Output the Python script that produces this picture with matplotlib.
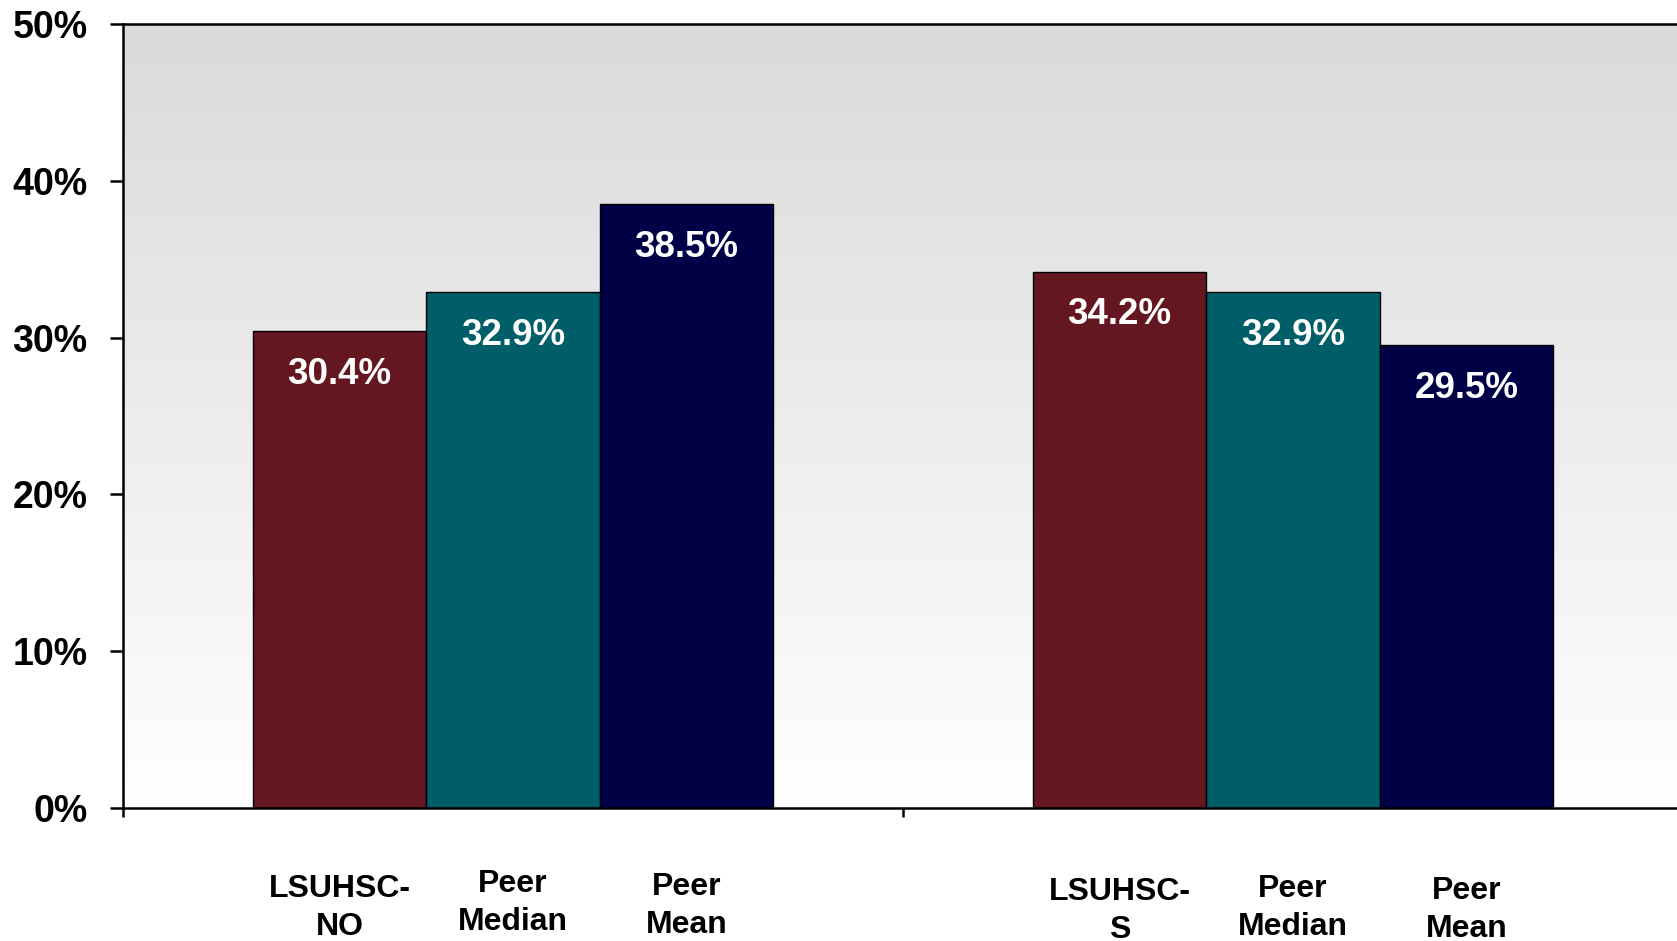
import matplotlib
matplotlib.use('Agg')
import matplotlib.pyplot as plt
import numpy as np

groups = ['LSUHSC-NO', 'LSUHSC-S']
bar_labels = [['LSUHSC-\nNO', 'Peer\nMedian', 'Peer\nMean'],
              ['LSUHSC-\nS', 'Peer\nMedian', 'Peer\nMean']]
values = [[30.4, 32.9, 38.5],
          [34.2, 32.9, 29.5]]
colors = ['#641720', '#005E69', '#000046']
y_ticks = [0, 10, 20, 30, 40, 50]

plt.rcParams['font.family'] = ['Liberation Sans', 'DejaVu Sans']
plt.rcParams['font.weight'] = 'bold'

fig = plt.figure(figsize=(16.77, 9.41), dpi=100)
ax = fig.add_axes([123 / 1677, 133 / 941, 1560 / 1677, 784 / 941])

# grey-to-white background like the original plot area
grad = np.linspace(1.0, 0.0, 256).reshape(-1, 1)
ax.imshow(grad, cmap=matplotlib.colors.LinearSegmentedColormap.from_list('bg', ['#ffffff', '#dadada']),
          extent=(-0.5, 1.5, 0, 50), aspect='auto', zorder=0, interpolation='bilinear')

w = 1 / 4.5
label_drop = [[100, 95, 98], [103, 100, 102]]
for g in range(len(groups)):
    for i in range(3):
        x = g + (i - 1) * w
        ax.bar(x, values[g][i], width=w, color=colors[i], edgecolor='black', linewidth=1.0, zorder=2)
        ax.annotate(f'{values[g][i]:.1f}%', xy=(x, values[g][i]), xytext=(0, -43),
                    textcoords='offset pixels', ha='center', va='center',
                    color='white', fontsize=26.5, fontweight='bold', zorder=3)
        ax.annotate(bar_labels[g][i], xy=(x, 0), xytext=(0, -label_drop[g][i]),
                    textcoords='offset pixels', ha='center', va='center',
                    fontsize=23, fontweight='bold', linespacing=1.35, annotation_clip=False)

ax.set_xlim(-0.5, 1.5)
ax.set_ylim(0, 50)
ax.set_yticks(y_ticks)
ax.set_yticklabels([f'{t}%' for t in y_ticks], fontsize=27, fontweight='bold')
ax.set_xticks([-0.5, 0.5, 1.5])
ax.set_xticklabels([])
ax.tick_params(axis='y', direction='out', length=9.4, width=1.8, pad=16)
ax.tick_params(axis='x', direction='out', length=6.5, width=1.8)

for s in ['left', 'bottom', 'top']:
    ax.spines[s].set_linewidth(1.8)
    ax.spines[s].set_color('black')
ax.spines['right'].set_visible(False)

fig.savefig('out.png', dpi=100)
